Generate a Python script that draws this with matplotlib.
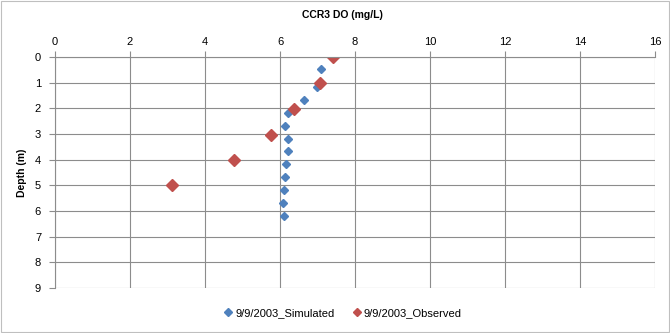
import matplotlib
matplotlib.use("Agg")
import matplotlib.pyplot as plt
from matplotlib.patches import Rectangle

plt.rcParams['font.family'] = ['Liberation Sans', 'DejaVu Sans']

# simulated profile
sim_do = [7.09, 6.98, 6.64, 6.20, 6.14, 6.21, 6.22, 6.15, 6.12, 6.10, 6.09, 6.10]
sim_depth = [0.47, 1.18, 1.67, 2.17, 2.68, 3.18, 3.67, 4.18, 4.69, 5.19, 5.70, 6.18]

# observed profile
obs_do = [7.40, 7.07, 6.37, 5.75, 4.77, 3.12]
obs_depth = [0.0, 1.02, 2.04, 3.04, 4.0, 5.0]

x_ticks = list(range(0, 17, 2))
y_ticks = list(range(0, 10))

fig = plt.figure(figsize=(6.7, 3.33), dpi=100)
ax = fig.add_axes([55/670, 1-288/333, 600/670, 231/333])

ax.plot(sim_do, sim_depth, linestyle="none", marker="D", markersize=4.5,
        color="#4F81BD", label="9/9/2003_Simulated")
ax.plot(obs_do, obs_depth, linestyle="none", marker="D", markersize=6,
        color="#C0504D", label="9/9/2003_Observed")

ax.set_xlim(0, 16)
ax.set_ylim(9, 0)
ax.set_xticks(x_ticks)
ax.set_yticks(y_ticks)
ax.xaxis.tick_top()
ax.grid(True, color="#8c8c8c", linewidth=0.8)
ax.set_axisbelow(True)
for s in ["right", "bottom"]:
    ax.spines[s].set_visible(False)
for s in ["left", "top"]:
    ax.spines[s].set_color("#8c8c8c")
ax.tick_params(axis="both", colors="#8c8c8c", labelcolor="black", labelsize=8,
               length=4, width=0.8)
ax.tick_params(axis="x", pad=3)
ax.tick_params(axis="y", pad=6)

fig.text(342/670, 1-15/333, "CCR3 DO (mg/L)", ha="center", va="center",
         fontsize=7.5, fontweight="bold")
ax.set_ylabel("Depth (m)", fontsize=7.5, fontweight="bold", labelpad=6)

leg = fig.legend(loc="center", bbox_to_anchor=(342/670, 1-313/333), ncol=2,
                 frameon=False, fontsize=8, handletextpad=0.1, columnspacing=1.5,
                 handlelength=1.0)
for h in leg.legend_handles:
    h.set_markersize(4.5)

fig.patches.append(Rectangle((0.002, 0.003), 0.996, 0.994, transform=fig.transFigure,
                             fill=False, edgecolor="#bfbfbf", linewidth=0.8))

fig.savefig("out.png", dpi=100)
